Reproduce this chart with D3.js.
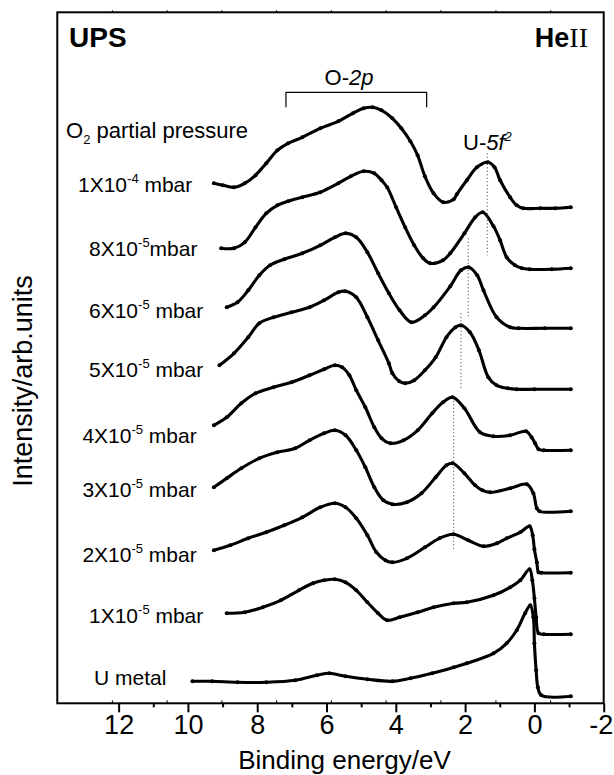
<!DOCTYPE html>
<html><head><meta charset="utf-8">
<script src="https://cdn.jsdelivr.net/npm/d3@7"></script>
<style>
body{margin:0;background:#fff;}
text{font-family:"Liberation Sans",Arial,sans-serif;fill:#000;}
</style></head>
<body><svg id="c" width="614" height="775"></svg>
<script>
// ---- data ----
const energyTicks = [12,10,8,6,4,2,0,-2];
const minorTicks = [11,9,7,5,3,1,-1];
const frameTicks = [12.18,10.6,9.02,7.44,5.86,4.28,2.70,1.11,-0.47];

const s1e4 = [[9.25,520],[8.99,518],[8.67,516],[8.36,520],[8.05,528],[7.74,540],[7.42,553],[7.11,560],[6.70,566],[6.18,575],[5.66,582],[5.24,590],[4.93,595],[4.67,596],[4.41,593],[4.10,585],[3.84,575],[3.58,562],[3.37,548],[3.16,527],[2.91,510],[2.63,501],[2.33,504],[2.24,509],[1.95,523],[1.66,536],[1.34,541],[1.15,536],[0.99,523],[0.70,506],[0.51,498],[0.32,495],[-0.17,495],[-0.6,495],[-1.05,496]];
const s8e5 = [[9.04,455],[8.67,455],[8.36,461],[8.05,476],[7.74,490],[7.42,498],[7.11,502],[6.70,506],[6.18,511],[5.66,520],[5.30,527],[4.93,532],[4.62,530],[4.41,523],[4.25,516],[3.99,496],[3.73,476],[3.47,458],[3.21,445],[3.01,440],[2.64,443],[2.43,450],[2.02,470],[1.71,486],[1.49,491],[1.18,477],[0.99,463],[0.80,446],[0.56,438],[0.36,435],[0.14,434],[-0.5,434],[-1.05,435]];
const s6e5 = [[8.88,396],[8.57,401],[8.26,413],[7.94,428],[7.63,438],[7.22,444],[6.70,450],[6.18,458],[5.76,466],[5.45,470],[5.14,466],[4.82,451],[4.51,430],[4.20,410],[3.89,393],[3.55,381],[3.16,388],[2.91,396],[2.43,417],[2.12,433],[1.90,436],[1.65,428],[1.47,413],[1.09,386],[0.70,376],[0.46,375],[-0.3,375],[-1.05,375]];
const s5e5 = [[9.09,338],[8.67,350],[8.26,366],[7.94,380],[7.53,386],[7.01,391],[6.49,396],[6.07,403],[5.66,411],[5.45,412],[5.14,406],[4.82,386],[4.51,363],[4.20,340],[4.10,330],[3.90,322],[3.73,320],[3.47,323],[3.16,333],[2.85,346],[2.54,366],[2.28,376],[2.12,378],[1.86,371],[1.60,353],[1.33,326],[1.09,318],[0.77,315],[0.51,314],[0,314],[-1.05,314]];
const s4e5 = [[9.25,278],[8.88,286],[8.46,300],[8.05,310],[7.53,316],[7.01,321],[6.49,328],[6.07,334],[5.76,338],[5.55,336],[5.34,328],[5.14,313],[4.88,296],[4.62,276],[4.41,265],[4.15,260],[3.78,263],[3.37,273],[2.95,290],[2.64,301],[2.36,306],[2.02,295],[1.57,271],[1.18,267],[0.70,268],[0.24,272],[0.08,266],[-0.02,260],[-0.12,254],[-0.27,253],[-1.05,253]];
const s3e5 = [[9.25,216],[8.88,225],[8.46,235],[7.94,245],[7.42,251],[6.90,255],[6.49,263],[6.07,270],[5.76,273],[5.45,268],[5.14,253],[4.88,236],[4.62,216],[4.36,203],[4.10,199],[3.68,201],[3.26,210],[2.85,226],[2.54,238],[2.36,240],[2.02,230],[1.71,218],[1.50,213],[1.28,211],[0.70,215],[0.22,219],[0.03,210],[-0.07,195],[-0.15,192],[-1.05,192]];
const s2e5 = [[9.25,153],[8.78,158],[8.26,165],[7.74,171],[7.22,178],[6.70,186],[6.18,196],[5.76,200],[5.45,196],[5.14,185],[4.82,168],[4.56,151],[4.30,143],[4.10,141],[3.68,145],[3.16,156],[2.74,165],[2.34,169],[1.91,163],[1.47,157],[1.08,160],[0.80,165],[0.41,171],[0.14,177],[0.05,168],[0.0,154],[-0.07,141],[-0.12,131],[-0.2,130.5],[-1.05,130.5]];
const s1e5 = [[8.88,90],[8.36,91],[7.84,96],[7.32,103],[6.80,113],[6.39,120],[6.07,123],[5.76,124],[5.45,121],[5.14,113],[4.82,101],[4.51,90],[4.25,83],[3.89,86],[3.37,91],[2.91,96],[2.33,100],[1.95,101],[1.18,108],[0.70,116],[0.41,123],[0.14,134],[0.06,123],[0.0,105],[-0.05,86],[-0.12,70],[-0.27,69],[-1.05,69]];
const sUmetal = [[9.87,22],[9.30,22],[8.57,21],[7.74,21],[6.90,23],[6.28,28],[5.92,30],[5.45,27],[4.82,24],[4.10,22],[3.58,25],[2.95,30],[2.33,36],[1.95,40],[1.18,50],[0.80,60],[0.51,73],[0.27,90],[0.12,98],[0.03,86],[0.0,60],[-0.05,33],[-0.10,16],[-0.2,8],[-1.05,7]];

const seriesList = [s1e4,s8e5,s6e5,s5e5,s4e5,s3e5,s2e5,s1e5,sUmetal];
// label parts: [main, superscript, rest]
const seriesLabels = [["1X10","-4"," mbar"],["8X10","-5","mbar"],["6X10","-5"," mbar"],["5X10","-5"," mbar"],["4X10","-5"," mbar"],["3X10","-5"," mbar"],["2X10","-5"," mbar"],["1X10","-5"," mbar"],["U metal","",""]];
// U-5f peak guide lines: energy, top, bottom intensity
const guideLines = [[1.36,550,448],[1.91,465,386],[2.12,390,313],[2.33,306,153]];
const o2pBracket = [7.17,3.11,611,596];

// ---- layout ----
const L=57.3,R=603.7,T=12.3,B=703.3;
const x = d3.scaleLinear().domain([13.77,-2]).range([L,R]);
const y = d3.scaleLinear().domain([0,691]).range([B,T]);
const svg = d3.select("#c");

// frame
svg.append("rect").attr("x",L).attr("y",T).attr("width",R-L).attr("height",B-T)
  .attr("fill","none").attr("stroke","#000").attr("stroke-width",2);

// x axis
const ax = svg.append("g").attr("transform",`translate(0,${B})`)
  .call(d3.axisBottom(x).tickValues(energyTicks).tickSize(9).tickPadding(3).tickFormat(d=>String(d)));
ax.select(".domain").remove();
ax.selectAll(".tick line").attr("stroke-width",2);
ax.selectAll(".tick text").style("font-size","27px").style("font-family","'Liberation Sans',Arial,sans-serif")
  .attr("dx",d=>d===-2?-3:0);
const axm = svg.append("g").attr("transform",`translate(0,${B})`)
  .call(d3.axisBottom(x).tickValues(minorTicks).tickSize(4).tickFormat(""));
axm.select(".domain").remove();
axm.selectAll(".tick line").attr("stroke-width",2);
// small frame ticks
[B,T].forEach((yy,i)=>{
  svg.append("g").selectAll("line").data(frameTicks).join("line")
    .attr("x1",d=>x(d)).attr("x2",d=>x(d))
    .attr("y1",yy).attr("y2",i===0?yy-3:yy-2)
    .attr("stroke","#000").attr("stroke-width",1);
});

// titles
svg.append("text").attr("x",344.5).attr("y",769).attr("text-anchor","middle")
  .style("font-size","26px").text("Binding energy/eV");
svg.append("text").attr("transform","translate(32,381) rotate(-90)").attr("text-anchor","middle")
  .style("font-size","27px").text("Intensity/arb.units");

// curves
const line = d3.line().x(d=>x(d[0])).y(d=>y(d[1])).curve(d3.curveCatmullRom.alpha(0.5));
const g = svg.append("g");
seriesList.forEach(s=>{
  g.append("path").attr("d",line(s)).attr("fill","none").attr("stroke","#000")
    .attr("stroke-width",3.1).attr("stroke-linejoin","round").attr("stroke-linecap","round");
  g.selectAll(null).data(s).join("circle").attr("cx",d=>x(d[0])).attr("cy",d=>y(d[1]))
    .attr("r",2).attr("fill","#000");
});

// guide lines
svg.append("g").selectAll("line").data(guideLines).join("line")
  .attr("x1",d=>x(d[0])).attr("x2",d=>x(d[0])).attr("y1",d=>y(d[1])).attr("y2",d=>y(d[2]))
  .attr("stroke","#333").attr("stroke-width",1).attr("stroke-dasharray","1,2.5");

// O-2p bracket
const [bl,br,bt,bb]=o2pBracket;
svg.append("path").attr("d",`M${x(bl)},${y(bb)}V${y(bt)}H${x(br)}V${y(bb)}`)
  .attr("fill","none").attr("stroke","#000").attr("stroke-width",1.2);
const o2 = svg.append("text").attr("x",349).attr("y",85).attr("text-anchor","middle").style("font-size","22px");
o2.append("tspan").text("O-");
o2.append("tspan").style("font-style","italic").text("2p");

// U-5f2
const uf = svg.append("text").attr("x",463).attr("y",150).style("font-size","22px");
uf.append("tspan").text("U-");
uf.append("tspan").style("font-style","italic").text("5f");
uf.append("tspan").attr("dy",-9).style("font-size","13px").style("font-style","italic").text("2");

// UPS / HeII
svg.append("text").attr("x",69).attr("y",47).style("font-size","28px").style("font-weight","bold").text("UPS");
const he = svg.append("text").attr("x",588).attr("y",47).attr("text-anchor","end");
he.append("tspan").style("font-size","27px").style("font-weight","bold").text("He");
he.append("tspan").style("font-size","28px").style("font-family","'Liberation Serif','Times New Roman',serif").text("II");

// O2 partial pressure
const op = svg.append("text").attr("x",66).attr("y",138).style("font-size","22px");
op.append("tspan").text("O");
op.append("tspan").attr("dy",6).style("font-size","13px").text("2");
op.append("tspan").attr("dy",-6).text(" partial pressure");

// series labels
const labelPos = [[78,191.5],[89,256],[89,317.7],[89,377],[82.4,443],[82.4,497],[82.4,561.7],[89,623.3],[94,685]];
seriesLabels.forEach((p,i)=>{
  const t = svg.append("text").attr("x",labelPos[i][0]).attr("y",labelPos[i][1]).style("font-size","21px");
  t.append("tspan").text(p[0]);
  if(p[1]){
    t.append("tspan").attr("dy",-9).style("font-size","13px").text(p[1]);
    t.append("tspan").attr("dy",9).text(p[2]);
  }
});
</script></body></html>
